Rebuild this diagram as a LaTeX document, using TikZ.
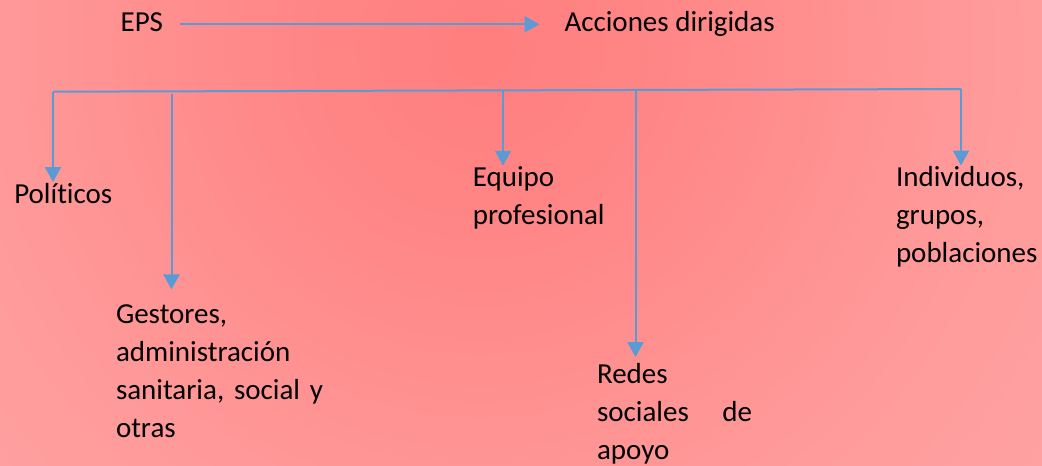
\documentclass[tikz,border=0pt]{standalone}
\usepackage{fontspec}
\setmainfont{Carlito}[Ligatures=NoCommon]
\usetikzlibrary{arrows.meta}
\definecolor{arrowblue}{RGB}{91,155,213}
\definecolor{bgA}{RGB}{255,126,126}
\definecolor{bgB}{RGB}{255,135,135}
\definecolor{bgC}{RGB}{255,154,154}
\definecolor{bgD}{RGB}{255,172,172}
\definecolor{bgE}{RGB}{255,185,185}
\pgfdeclareradialshading{bgglow}{\pgfpoint{0bp}{0bp}}{color(0bp)=(bgA); color(3.5bp)=(bgB); color(8.7bp)=(bgC); color(17.4bp)=(bgD); color(25bp)=(bgE); color(50bp)=(bgE)}

\begin{document}
\begin{tikzpicture}[x=1pt, y=-1pt, line width=2pt,
    label/.style={font=\fontsize{29}{38}\selectfont, inner sep=0pt, anchor=base west},
    link/.style={draw=arrowblue, -{Triangle[length=15pt, width=16pt]}}]
        \useasboundingbox (0,0) rectangle (1042,466);
        \begin{scope}
          \clip (0,0) rectangle (1042,466);
          \shade[shading=bgglow] (480,50) circle (1440pt);
        \end{scope}

        % texts
        \node[label] (eps) at (119.6,31.7) {EPS};
        \node[label] (acc) at (563.5,31.7) {Acciones dirigidas};
        \node[label] (pol) at (13.3,203.3) {Políticos};
        \node[label, text width=207pt, align=left] (ges) at (115,323.3)
          {Gestores,\\ administración\\ sanitaria,\hfill social\hfill y\\ otras};
        \node[label, text width=150pt, align=left] (eq) at (471.8,186.7)
          {Equipo\\ profesional};
        \node[label, text width=155pt, align=left] (red) at (596,383.3)
          {Redes\\ sociales\hfill de\\ apoyo};
        \node[label, text width=150pt, align=left] (ind) at (895,186.7)
          {Individuos,\\ grupos,\\ poblaciones};

        \coordinate (barL) at (53,91.7);
        \coordinate (barR) at (961,89);
        \coordinate (gesTop) at (171.5,94.3);
        \coordinate (eqTop) at (503,90.4);
        \coordinate (redTop) at (635.5,90);

        \draw[link] ([shift={(16,-7.4)}]eps.base east) -- ([shift={(-24,-7.4)}]acc.base west);
        \draw[arrowblue] (barL) -- (barR);
        \draw[link] (barL) -- (barL |- pol.north);
        \draw[link, shorten >=14pt] (gesTop) -- (gesTop |- ges.north);
        \draw[link] (eqTop) -- (eqTop |- eq.north);
        \draw[link, shorten >=5pt] (redTop) -- (redTop |- red.north);
        \draw[link] (barR) -- (barR |- ind.north);
      \end{tikzpicture}
\end{document}
